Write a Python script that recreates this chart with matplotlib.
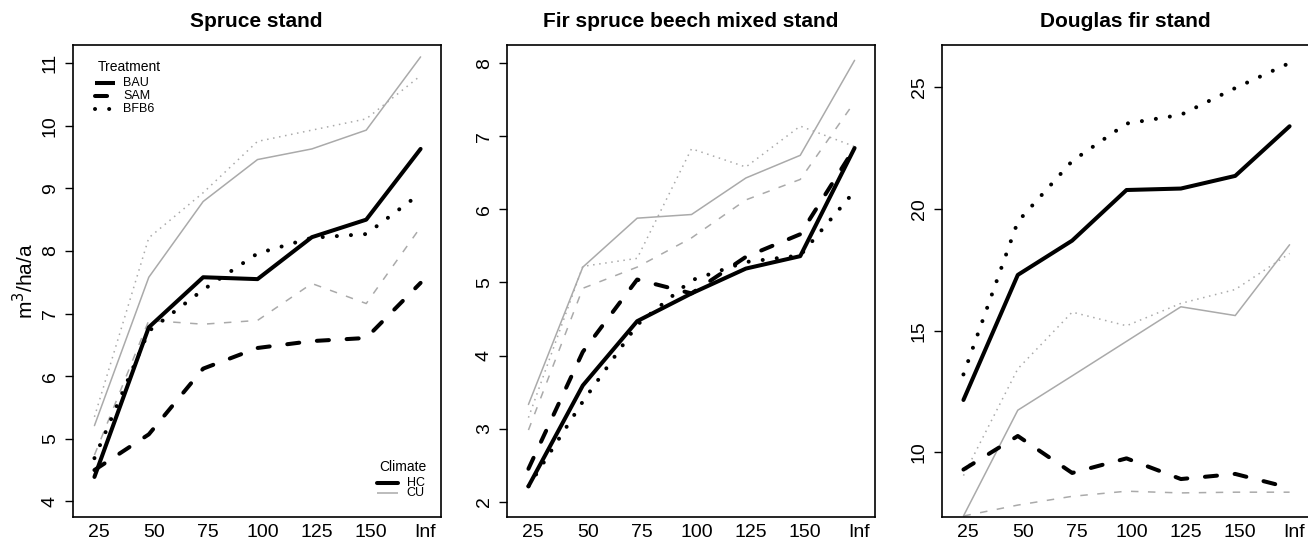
import matplotlib
matplotlib.use("Agg")
import matplotlib.pyplot as plt
from matplotlib.lines import Line2D

plt.rcParams['font.family'] = ['Liberation Sans', 'DejaVu Sans']

# ---------------- data ----------------
x_labels = ['25', '50', '75', '100', '125', '150', 'Inf']
titles = ['Spruce stand', 'Fir spruce beech mixed stand', 'Douglas fir stand']

# Spruce stand
spruce_hc_bau = [4.39, 6.78, 7.58, 7.55, 8.22, 8.50, 9.63]
spruce_hc_sam = [4.50, 5.07, 6.12, 6.45, 6.56, 6.61, 7.49]
spruce_hc_bfb6 = [4.69, 6.72, 7.38, 7.96, 8.21, 8.27, 8.92]
spruce_cu_bau = [5.21, 7.58, 8.79, 9.46, 9.63, 9.93, 11.10]
spruce_cu_sam = [4.74, 6.89, 6.83, 6.89, 7.48, 7.16, 8.38]
spruce_cu_bfb6 = [5.35, 8.21, 8.93, 9.75, 9.93, 10.11, 10.80]

# Fir spruce beech mixed stand
mixed_hc_bau = [2.21, 3.59, 4.47, 4.85, 5.19, 5.36, 6.84]
mixed_hc_sam = [2.45, 4.05, 5.04, 4.85, 5.35, 5.66, 6.84]
mixed_hc_bfb6 = [2.21, 3.37, 4.42, 5.03, 5.28, 5.37, 6.25]
mixed_cu_bau = [3.33, 5.21, 5.88, 5.93, 6.43, 6.74, 8.04]
mixed_cu_sam = [2.98, 4.92, 5.21, 5.61, 6.13, 6.41, 7.47]
mixed_cu_bfb6 = [3.15, 5.22, 5.33, 6.83, 6.58, 7.14, 6.86]

# Douglas fir stand
douglas_hc_bau = [12.15, 17.29, 18.70, 20.78, 20.84, 21.36, 23.40]
douglas_hc_sam = [9.29, 10.67, 9.15, 9.75, 8.90, 9.11, 8.54]
douglas_hc_bfb6 = [13.20, 19.48, 21.97, 23.51, 23.87, 24.97, 26.00]
douglas_cu_bau = [7.38, 11.73, 13.14, 14.56, 15.98, 15.62, 18.53]
douglas_cu_sam = [7.38, 7.83, 8.19, 8.40, 8.33, 8.36, 8.36]
douglas_cu_bfb6 = [9.04, 13.43, 15.76, 15.20, 16.12, 16.69, 18.17]

panels = [
    dict(hc=[spruce_hc_bau, spruce_hc_sam, spruce_hc_bfb6],
         cu=[spruce_cu_bau, spruce_cu_sam, spruce_cu_bfb6],
         ylim=(3.75, 11.29), yticks=[4, 5, 6, 7, 8, 9, 10, 11]),
    dict(hc=[mixed_hc_bau, mixed_hc_sam, mixed_hc_bfb6],
         cu=[mixed_cu_bau, mixed_cu_sam, mixed_cu_bfb6],
         ylim=(1.79, 8.25), yticks=[2, 3, 4, 5, 6, 7, 8]),
    dict(hc=[douglas_hc_bau, douglas_hc_sam, douglas_hc_bfb6],
         cu=[douglas_cu_bau, douglas_cu_sam, douglas_cu_bfb6],
         ylim=(7.34, 26.74), yticks=[10, 15, 20, 25]),
]

GREY = '#aaaaaa'
BLACK_LW = 2.9
GREY_LW = 1.1

black_styles = [None, ((3.0, 4.4), 'round'), ((0.01, 3.5), 'round')]
grey_styles = [None, ((4.9, 6.2), 'butt'), ((1.0, 3.0), 'butt')]


def draw(ax, y, color, lw, style):
    xs = list(range(1, len(y) + 1))
    if style is None:
        ax.plot(xs, y, color=color, lw=lw, solid_capstyle='round',
                solid_joinstyle='round')
    else:
        dashes, cap = style
        ax.plot(xs, y, color=color, lw=lw, dashes=dashes,
                dash_capstyle=cap, dash_joinstyle='round')


W, H = 1308, 540
fig = plt.figure(figsize=(W / 100, H / 100), dpi=100)

lefts = [72.7, 506.7, 941.7]
ax_w = 368.0
top_px, bot_px = 45.0, 517.0

axes = []
for i, p in enumerate(panels):
    ax = fig.add_axes([lefts[i] / W, 1 - bot_px / H, ax_w / W,
                       (bot_px - top_px) / H])
    axes.append(ax)
    for y, st in zip(p['cu'], grey_styles):
        draw(ax, y, GREY, GREY_LW, st)
    for y, st in zip(p['hc'], black_styles):
        draw(ax, y, 'black', BLACK_LW, st)
    ax.set_xlim(0.6, 7.37)
    ax.set_ylim(*p['ylim'])
    ax.set_yticks(p['yticks'])
    ax.set_yticklabels([str(t) for t in p['yticks']], rotation=90,
                       va='center', fontsize=14)
    ax.set_xticks([k + 1.09 for k in range(len(x_labels))])
    ax.set_xticklabels(x_labels, fontsize=14)
    ax.tick_params(axis='x', length=0, pad=5)
    ax.tick_params(axis='y', length=6, width=1.0, pad=4, direction='out')
    for s in ax.spines.values():
        s.set_linewidth(1.2)
    ax.set_title(titles[i], fontsize=15, fontweight='bold', pad=13)

axes[0].set_ylabel('m$^{3}$/ha/a', fontsize=15, labelpad=3)

# ---- legends (panel 1) ----
ax = axes[0]
T = ax.transAxes
ax.text(0.153, 0.954, 'Treatment', transform=T, ha='center', va='center',
        fontsize=10)
leg_rows = [('BAU', None, 0.920), ('SAM', ((3.0, 4.4), 'round'), 0.892),
            ('BFB6', ((0.01, 3.5), 'round'), 0.864)]
for lab, st, yy in leg_rows:
    if st is None:
        ax.add_line(Line2D([0.0606, 0.1149], [yy, yy], transform=T,
                           color='black', lw=BLACK_LW, solid_capstyle='butt'))
    else:
        dashes, cap = st
        ax.add_line(Line2D([0.0606, 0.1149], [yy, yy], transform=T,
                           color='black', lw=BLACK_LW, dashes=dashes,
                           dash_capstyle=cap))
    ax.text(0.1375, yy, lab, transform=T, ha='left', va='center', fontsize=9)

ax.text(0.8976, 0.106, 'Climate', transform=T, ha='center', va='center',
        fontsize=10)
ax.add_line(Line2D([0.826, 0.885], [0.0714, 0.0714], transform=T,
                   color='black', lw=BLACK_LW, solid_capstyle='round'))
ax.text(0.9076, 0.0714, 'HC', transform=T, ha='left', va='center', fontsize=9)
ax.add_line(Line2D([0.826, 0.885], [0.0502, 0.0502], transform=T,
                   color=GREY, lw=GREY_LW, solid_capstyle='butt'))
ax.text(0.9076, 0.0502, 'CU', transform=T, ha='left', va='center', fontsize=9)

fig.savefig('out.png', dpi=100)
